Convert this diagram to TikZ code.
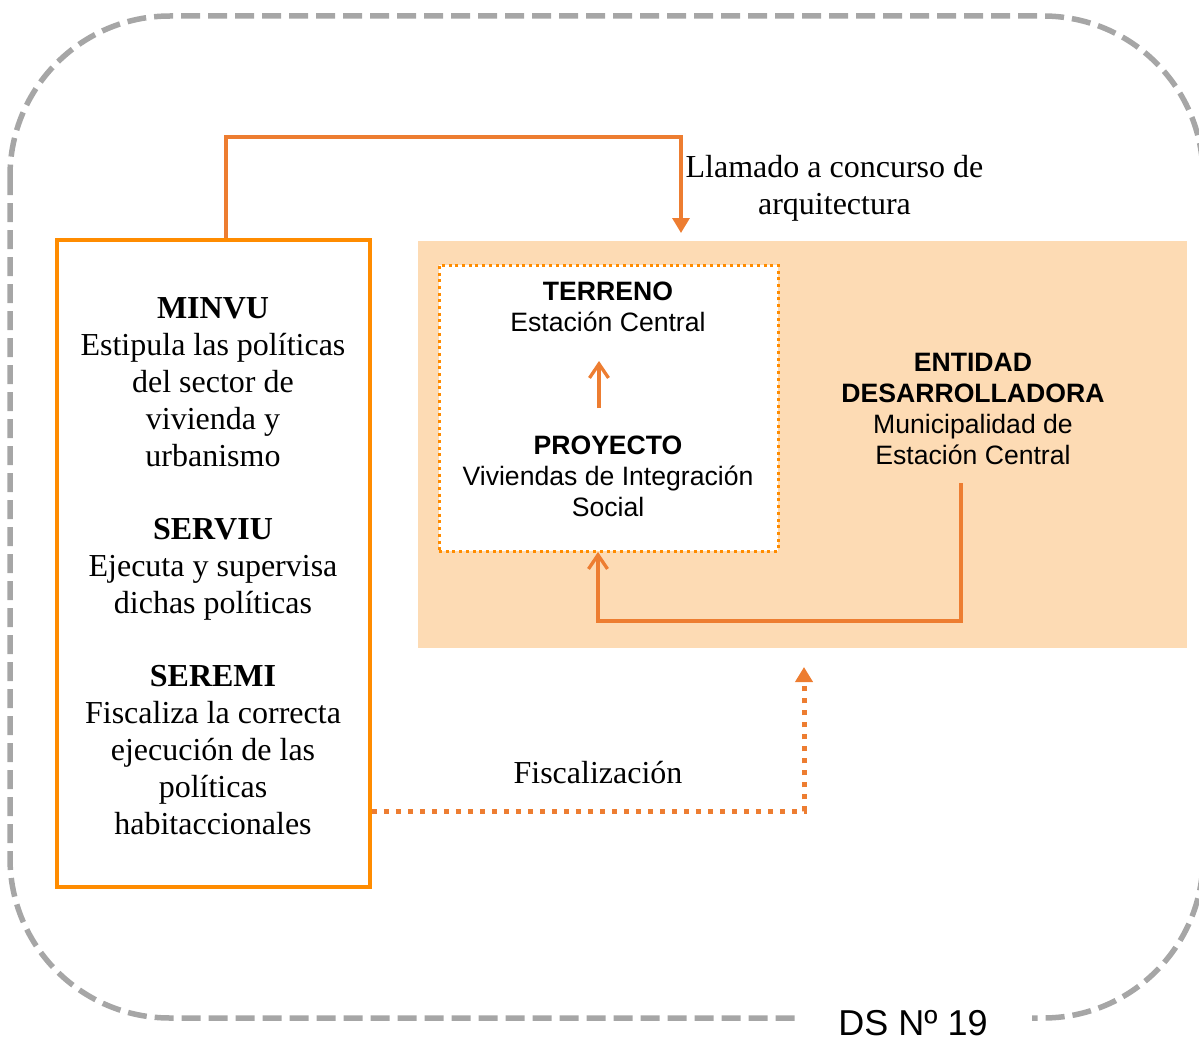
\documentclass[tikz,border=0pt]{standalone}
\usepackage{fontspec}
\setmainfont{Liberation Serif}
\setsansfont{Liberation Sans}
\usetikzlibrary{arrows.meta}
\definecolor{boxorange}{HTML}{FF8C00}
\definecolor{conn}{HTML}{ED7D31}
\definecolor{beige}{HTML}{FDDBB4}
\definecolor{dashgray}{HTML}{A6A6A6}
\begin{document}
\begin{tikzpicture}[x=1pt,y=-1pt,
  outerframe/.style={draw=dashgray,line width=5.5pt,dash pattern=on 19pt off 8pt,rounded corners=160pt},
  govbox/.style={draw=boxorange,line width=3.5pt,minimum width=313pt,minimum height=647pt,inner sep=0pt},
  devbox/.style={fill=beige,minimum width=769pt,minimum height=407pt,inner sep=0pt},
  sitebox/.style={draw=boxorange,fill=white,line width=3pt,dash pattern=on 3pt off 3.7pt,minimum width=339pt,minimum height=286pt,inner sep=0pt},
  serif/.style={font=\fontsize{32}{37}\selectfont\rmfamily,align=center,inner sep=0pt},
  sans/.style={font=\fontsize{26.6}{31}\selectfont\sffamily,align=center,inner sep=0pt},
  link/.style={draw=conn,line width=3.3pt},
  dotlink/.style={draw=conn,line width=5pt,dash pattern=on 5pt off 7pt},
  tri/.style={-{Triangle[length=15pt,width=17pt]}},
  barb/.style={-{Straight Barb[length=14pt,width=19pt,line width=3.3pt]}}
]
\useasboundingbox (0,0) rectangle (1199,1041);
\clip (0,0) rectangle (1199,1041);
\draw[outerframe] (10,16) rectangle (1203,1018);
\node[fill=white,minimum width=237pt,minimum height=36pt,inner sep=0pt,font=\fontsize{36}{40}\selectfont\sffamily] (ds) at (913,1023) {DS Nº 19};

\node[govbox] (gov) at (213.5,563.5) {};
\node[devbox] (dev) at (802.5,444.5) {};
\node[sitebox] (site) at (608.5,408) {};

% base anchor of a multi-line node = baseline of its last line
\node[serif,anchor=base] (minvu) at (213,466) {\textbf{MINVU}\\Estipula las políticas\\del sector de\\vivienda y\\urbanismo};
\node[serif,anchor=base] (serviu) at (213,613) {\textbf{SERVIU}\\Ejecuta y supervisa\\dichas políticas};
\node[serif,anchor=base] (seremi) at (213,834) {\textbf{SEREMI}\\Fiscaliza la correcta\\ejecución de las\\políticas\\habitaccionales};

\node[serif,anchor=base] (call) at (834.5,214) {Llamado a concurso de\\arquitectura};
\node[serif,anchor=base] (fisc) at (598,783) {Fiscalización};

\node[sans,anchor=base] (terr) at (608,331) {\textbf{TERRENO}\\Estación Central};
\node[sans,anchor=base] (proj) at (608,516) {\textbf{PROYECTO}\\Viviendas de Integración\\Social};
\node[sans,anchor=base] (ent) at (973,464) {\textbf{ENTIDAD}\\\textbf{DESARROLLADORA}\\Municipalidad de\\Estación Central};

\coordinate (calltip) at (681,233);
\coordinate (projtop) at (599,408);
\coordinate (terrbot) at (599,361);
\coordinate (entbot) at (961,483);
\coordinate (sitebot) at (598,552);
\coordinate (fisctip) at (804,667);

\draw[link,tri] ([xshift=12.5pt]gov.north) |- (681,137) -- (calltip);
\draw[link,barb] (projtop) -- (terrbot);
\draw[link,barb] (entbot) -- (961,621) -| (sitebot);
\draw[dotlink,tri] (gov.east |- 0,811) -- (804,811) -- (fisctip);
\end{tikzpicture}
\end{document}
